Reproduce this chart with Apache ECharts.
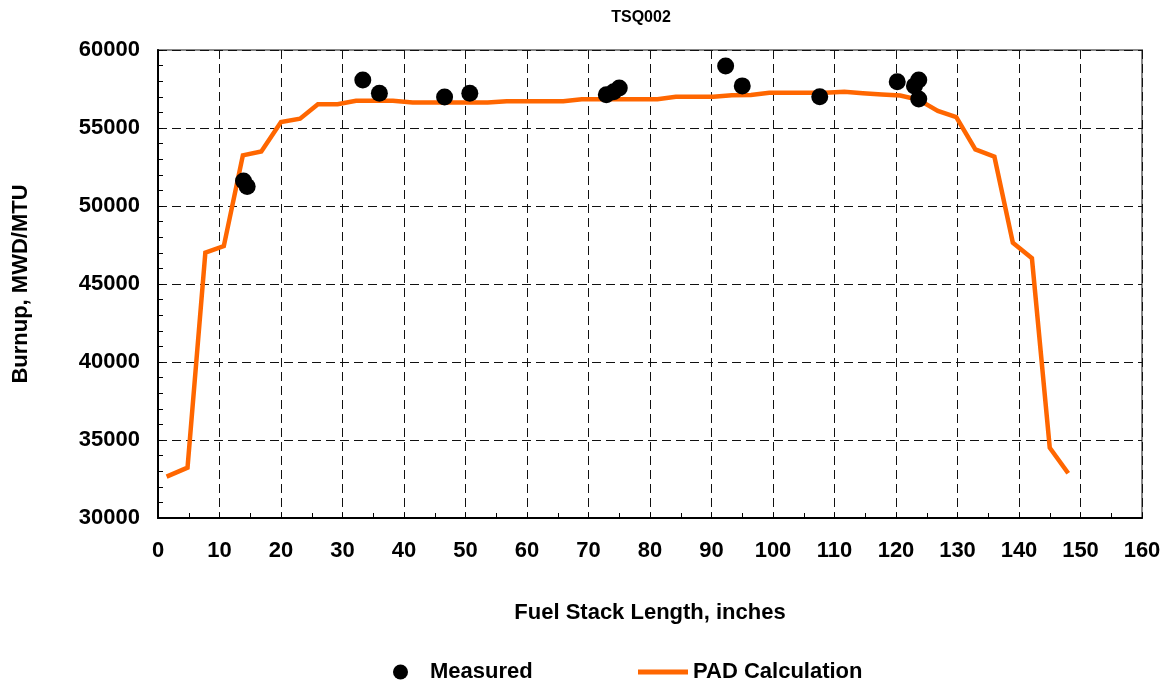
<!DOCTYPE html>
<html>
<head>
<meta charset="utf-8">
<script src="https://cdn.jsdelivr.net/npm/echarts@6/dist/echarts.min.js"></script>
<style>
  html, body { margin: 0; padding: 0; background: #fff; overflow: hidden; }
  #chart { width: 1174px; height: 684px; }
</style>
</head>
<body>
<div id="chart"></div>
<script>
// Axial burnup profile of rod TSQ002
const chartTitle = 'TSQ002';
const xAxisTitle = 'Fuel Stack Length, inches';
const yAxisTitle = 'Burnup, MWD/MTU';

// PAD calculation (node positions in inches, burnup in MWD/MTU)
const padX = [1.4, 4.8, 7.7, 10.7, 13.8, 16.8, 20.0, 23.1, 26.0, 29.2,
  32.2, 35.2, 38.2, 41.4, 44.4, 47.5, 50.5, 53.6, 56.7, 59.7,
  62.8, 65.9, 68.9, 72.0, 75.0, 78.1, 81.2, 84.2, 87.3, 90.3,
  93.3, 96.4, 99.4, 102.5, 105.5, 108.5, 111.6, 114.6, 117.7, 120.7,
  123.7, 126.8, 129.8, 132.9, 136.0, 139.0, 142.1, 145.0, 148.0];
const padY = [32650, 33230, 47010, 47430, 53250, 53500, 55380, 55600, 56530, 56530,
  56750, 56750, 56750, 56640, 56640, 56640, 56640, 56640, 56720, 56720,
  56720, 56720, 56850, 56850, 56850, 56850, 56850, 57000, 57000, 57000,
  57100, 57120, 57260, 57260, 57260, 57260, 57330, 57230, 57150, 57080,
  56800, 56100, 55700, 53630, 53160, 47650, 46650, 34500, 32870];

// Measured burnup
const measuredX = [13.9, 14.5, 33.3, 36.0, 46.6, 50.7, 72.9, 74.1, 75.0,
  92.3, 95.0, 107.6, 120.2, 123.0, 123.7, 123.7];
const measuredY = [51600, 51250, 58080, 57230, 56990, 57230, 57130, 57330, 57570,
  58980, 57700, 57010, 57970, 57700, 58080, 56860];

const FONT = '"Liberation Sans", Arial, sans-serif';

const padData = padX.map((x, i) => [x, padY[i]]);
const measuredData = measuredX.map((x, i) => [x, measuredY[i]]);

const chart = echarts.init(document.getElementById('chart'), null, { renderer: 'canvas' });

const gridLine = { show: true, lineStyle: { color: '#111', width: 1, type: [9, 5] } };
const labelFont = { fontFamily: FONT, fontWeight: 'bold', fontSize: 22, color: '#000' };

chart.setOption({
  animation: false,
  backgroundColor: '#fff',
  title: {
    text: chartTitle,
    left: 641,
    top: 10,
    padding: 0,
    textAlign: 'center',
    textStyle: { fontFamily: FONT, fontWeight: 'bold', fontSize: 16, color: '#000' }
  },
  legend: [
    {
      data: ['Measured'],
      left: 393,
      top: 661,
      padding: 0,
      icon: 'circle',
      itemWidth: 15,
      itemHeight: 15,
      textStyle: Object.assign({ padding: [0, 0, 0, 17] }, labelFont)
    },
    {
      data: ['PAD Calculation'],
      left: 638,
      top: 661,
      padding: 0,
      icon: 'rect',
      itemWidth: 50,
      itemHeight: 5,
      textStyle: labelFont
    }
  ],
  grid: {
    left: 158, right: 32, top: 50, bottom: 166,
    show: true, borderColor: '#888', borderWidth: 2, backgroundColor: 'transparent'
  },
  xAxis: {
    type: 'value',
    min: 0, max: 160, interval: 10,
    name: xAxisTitle,
    nameLocation: 'middle',
    nameGap: 84,
    nameTextStyle: labelFont,
    axisLine: { show: true, onZero: false, lineStyle: { color: '#000', width: 2 } },
    axisTick: { show: true, inside: true, length: 5, lineStyle: { color: '#000', width: 1 } },
    minorTick: { show: true, splitNumber: 2, length: 5, lineStyle: { color: '#000', width: 1 } },
    axisLabel: Object.assign({ margin: 22 }, labelFont),
    splitLine: gridLine
  },
  yAxis: {
    type: 'value',
    min: 30000, max: 60000, interval: 5000,
    name: yAxisTitle,
    nameLocation: 'middle',
    nameGap: 126,
    nameRotate: 90,
    nameTextStyle: labelFont,
    axisLine: { show: true, onZero: false, lineStyle: { color: '#000', width: 2 } },
    axisTick: { show: true, inside: true, length: 5, lineStyle: { color: '#000', width: 1 } },
    minorTick: { show: true, splitNumber: 5, length: 5, lineStyle: { color: '#000', width: 1 } },
    axisLabel: Object.assign({ margin: 18, formatter: v => String(v) }, labelFont),
    splitLine: gridLine
  },
  series: [
    {
      name: 'PAD Calculation',
      type: 'line',
      data: padData,
      showSymbol: false,
      symbol: 'none',
      z: 2,
      color: '#FF6600',
      lineStyle: { color: '#FF6600', width: 4.5, join: 'miter' }
    },
    {
      name: 'Measured',
      type: 'scatter',
      data: measuredData,
      symbol: 'circle',
      symbolSize: 17,
      z: 3,
      itemStyle: { color: '#000', opacity: 1 }
    }
  ]
});
</script>
</body>
</html>
